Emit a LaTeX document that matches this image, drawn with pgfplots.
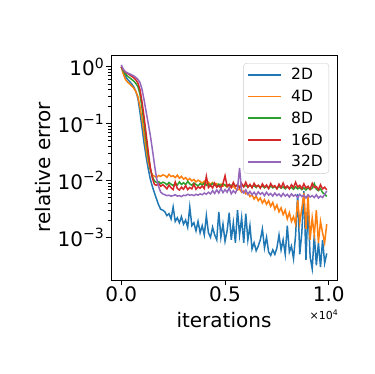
\documentclass[border=0pt]{standalone}
\usepackage{fontspec}
\setmainfont{DejaVu Sans}
\usepackage{pgfplots}
\usepackage{pgfplotstable}
\pgfplotsset{compat=1.18}

\definecolor{c0}{HTML}{1F77B4}
\definecolor{c1}{HTML}{FF7F0E}
\definecolor{c2}{HTML}{2CA02C}
\definecolor{c3}{HTML}{D62728}
\definecolor{c4}{HTML}{9467BD}

% iterations, relative error for 2D 4D 8D 16D 32D
\pgfplotstableread{
it d2 d4 d8 d16 d32
0 1.0 1.0 1.0 1.0 1.08
100 0.8 0.74 0.84 0.88 0.9
200 0.68 0.6 0.74 0.8 0.82
300 0.6 0.54 0.68 0.76 0.78
400 0.55 0.5 0.64 0.72 0.75
500 0.5 0.46 0.6 0.68 0.72
600 0.44 0.42 0.56 0.64 0.69
700 0.37 0.37 0.51 0.59 0.65
800 0.28 0.3 0.45 0.52 0.6
900 0.16 0.2 0.33 0.4 0.53
1000 0.085 0.12 0.19 0.24 0.4
1100 0.045 0.065 0.1 0.13 0.26
1200 0.026 0.035 0.05 0.065 0.16
1300 0.016 0.021 0.027 0.032 0.1
1400 0.0105 0.015 0.016 0.017 0.062
1500 0.0078 0.0125 0.0115 0.011 0.035
1600 0.006 0.0118 0.0098 0.0085 0.019
1700 0.0047 0.0112 0.0092 0.0082 0.011
1800 0.0037 0.0122 0.0095 0.0088 0.0078
1900 0.0031 0.0118 0.0088 0.0079 0.0062
2000 0.0030 0.0125 0.0093 0.0084 0.0058
2100 0.0028 0.0122 0.0090 0.0078 0.0056
2200 0.0024 0.0113 0.0084 0.0071 0.0054
2300 0.0026 0.0128 0.0092 0.0083 0.0055
2400 0.0021 0.0117 0.0086 0.0074 0.0053
2500 0.0034 0.0121 0.0081 0.0069 0.0054
2600 0.0019 0.0112 0.0089 0.0094 0.0056
2700 0.0022 0.0124 0.0083 0.0072 0.0053
2800 0.0018 0.0109 0.0094 0.0068 0.0054
2900 0.0023 0.0118 0.0085 0.0076 0.0052
3000 0.0017 0.0105 0.0091 0.0070 0.0055
3100 0.0020 0.0112 0.0084 0.0081 0.0054
3200 0.0015 0.0101 0.0096 0.0069 0.0057
3300 0.0034 0.0108 0.0087 0.0075 0.0055
3400 0.0016 0.0098 0.0082 0.0071 0.0056
3500 0.0018 0.0104 0.0090 0.0086 0.0054
3600 0.0013 0.0094 0.0085 0.0070 0.0057
3700 0.0019 0.0101 0.0080 0.0077 0.0055
3800 0.0012 0.0096 0.0088 0.0073 0.0058
3900 0.0016 0.0089 0.0083 0.0080 0.0056
4000 0.0011 0.0097 0.0090 0.0072 0.0060
4100 0.0024 0.0087 0.0082 0.0118 0.0057
4200 0.0012 0.0093 0.0087 0.0075 0.0062
4300 0.0010 0.0085 0.0081 0.0082 0.0058
4400 0.0015 0.0092 0.0089 0.0074 0.0066
4500 0.0011 0.0082 0.0083 0.0090 0.0059
4600 0.0009 0.0088 0.0079 0.0076 0.0068
4700 0.0028 0.0081 0.0086 0.0081 0.0060
4800 0.0010 0.0086 0.0080 0.0073 0.0072
4900 0.0017 0.0079 0.0088 0.0087 0.0061
5000 0.00085 0.0084 0.0082 0.0121 0.0069
5100 0.0013 0.0077 0.0078 0.0079 0.0062
5200 0.0027 0.0082 0.0085 0.0085 0.0074
5300 0.0009 0.0075 0.0080 0.0075 0.0058
5400 0.0018 0.0079 0.0087 0.0092 0.0066
5500 0.0008 0.0072 0.0079 0.0078 0.0060
5600 0.0030 0.0068 0.0083 0.0084 0.0072
5700 0.0011 0.0071 0.0077 0.0074 0.0165
5800 0.0022 0.0062 0.0084 0.0088 0.0065
5900 0.0008 0.0066 0.0078 0.0077 0.0060
6000 0.0026 0.0058 0.0082 0.0093 0.0068
6100 0.0009 0.0061 0.0076 0.0076 0.0057
6200 0.0016 0.0052 0.0083 0.0085 0.0064
6300 0.00062 0.0056 0.0077 0.0074 0.0056
6400 0.0008 0.0047 0.0081 0.0089 0.0062
6500 0.00058 0.0053 0.0075 0.0078 0.0055
6600 0.0007 0.0044 0.0082 0.0082 0.0063
6700 0.0009 0.0049 0.0076 0.0073 0.0057
6800 0.0014 0.0040 0.0080 0.0087 0.0061
6900 0.00065 0.0046 0.0074 0.0076 0.0054
7000 0.0010 0.0038 0.0079 0.0083 0.0062
7100 0.00055 0.0044 0.0073 0.0072 0.0055
7200 0.00048 0.0035 0.0080 0.0088 0.0059
7300 0.0006 0.0041 0.0074 0.0077 0.0053
7400 0.0005 0.0031 0.0078 0.0081 0.0060
7500 0.00065 0.0037 0.0072 0.0071 0.0054
7600 0.0011 0.0028 0.0079 0.0086 0.0058
7700 0.0006 0.0033 0.0073 0.0075 0.0052
7800 0.0009 0.0025 0.0077 0.0090 0.0059
7900 0.0005 0.0030 0.0071 0.0074 0.0053
8000 0.0016 0.0021 0.0078 0.0080 0.0057
8100 0.00055 0.0027 0.0072 0.0071 0.0051
8200 0.0007 0.0019 0.0076 0.0084 0.0058
8300 0.00042 0.0023 0.0070 0.0075 0.0053
8400 0.0011 0.0017 0.0077 0.0093 0.0056
8500 0.0058 0.0045 0.0071 0.0076 0.0050
8600 0.0005 0.0018 0.0075 0.0082 0.0057
8700 0.0012 0.0032 0.0069 0.0072 0.0052
8800 0.0065 0.0060 0.0074 0.0087 0.0055
8900 0.0004 0.0014 0.0068 0.0074 0.0049
9000 0.0038 0.0056 0.0075 0.0079 0.0056
9100 0.00045 0.0009 0.0069 0.0070 0.0051
9200 0.00028 0.0022 0.0073 0.0089 0.0054
9300 0.0011 0.0011 0.0088 0.0075 0.0050
9400 0.00032 0.0030 0.0070 0.0078 0.0056
9500 0.0008 0.0008 0.0066 0.0069 0.0049
9600 0.0003 0.0019 0.0072 0.0084 0.0053
9700 0.0009 0.0012 0.0061 0.0071 0.0050
9800 0.00035 0.0008 0.0058 0.0076 0.0057
9900 0.00052 0.0017 0.0052 0.0068 0.0065
}\errtable

\begin{document}
\begin{tikzpicture}
\begin{axis}[
    scale only axis,
    width=226pt, height=225pt,
    clip=false,
    ymode=log,
    xmin=-495, xmax=10395,
    ymin=1.77e-4, ymax=1.61,
    xtick={0,5000,10000},
    xticklabels={0.0,0.5,1.0},
    scaled x ticks=false,
    ytick={1e-3,1e-2,1e-1,1},
    yticklabels={10\textsuperscript{−3},10\textsuperscript{−2},10\textsuperscript{−1},10\textsuperscript{0}},
    tick pos=left,
    tick align=outside,
    major tick length=4.5pt,
    minor tick length=2.5pt,
    tick style={black, line width=0.8pt},
    minor tick style={line width=0.6pt},
    axis line style={line width=0.8pt},
    ticklabel style={font=\fontsize{20}{24}\selectfont, inner sep=2pt},
    xlabel={iterations},
    ylabel={relative error},
    label style={font=\fontsize{20}{24}\selectfont},
    xlabel style={at={(axis description cs:0.5,-0.178)}, anchor=center},
    ylabel style={at={(axis description cs:-0.30,0.5)}, anchor=center, rotate=0},
    legend cell align=left,
    legend style={
        at={(0.9646,0.964)}, anchor=north east,
        font=\fontsize{15.5}{18}\selectfont,
        draw=black!20, rounded corners=3pt,
        fill=white, fill opacity=0.8, text opacity=1,
        inner xsep=4pt, inner ysep=3pt,
        row sep=4.8pt,
        nodes={inner sep=2pt},
        /tikz/every odd column/.append style={column sep=7pt},
    },
    legend image code/.code={\draw[#1, line width=1.5pt] (0pt,0pt) -- (33pt,0pt);},
]
\addplot[c0, line width=1.5pt] table[x=it, y=d2] {\errtable};
\addplot[c1, line width=1.5pt] table[x=it, y=d4] {\errtable};
\addplot[c2, line width=1.5pt] table[x=it, y=d8] {\errtable};
\addplot[c3, line width=1.5pt] table[x=it, y=d16] {\errtable};
\addplot[c4, line width=1.5pt] table[x=it, y=d32] {\errtable};
\legend{2D,4D,8D,16D,32D}
\node[font=\fontsize{11}{13}\selectfont, anchor=center] at (axis description cs:0.942,-0.156) {×10\textsuperscript{4}};
\end{axis}
\path[use as bounding box] (-111pt,-94pt) rectangle (263pt,280pt);
\end{tikzpicture}
\end{document}
